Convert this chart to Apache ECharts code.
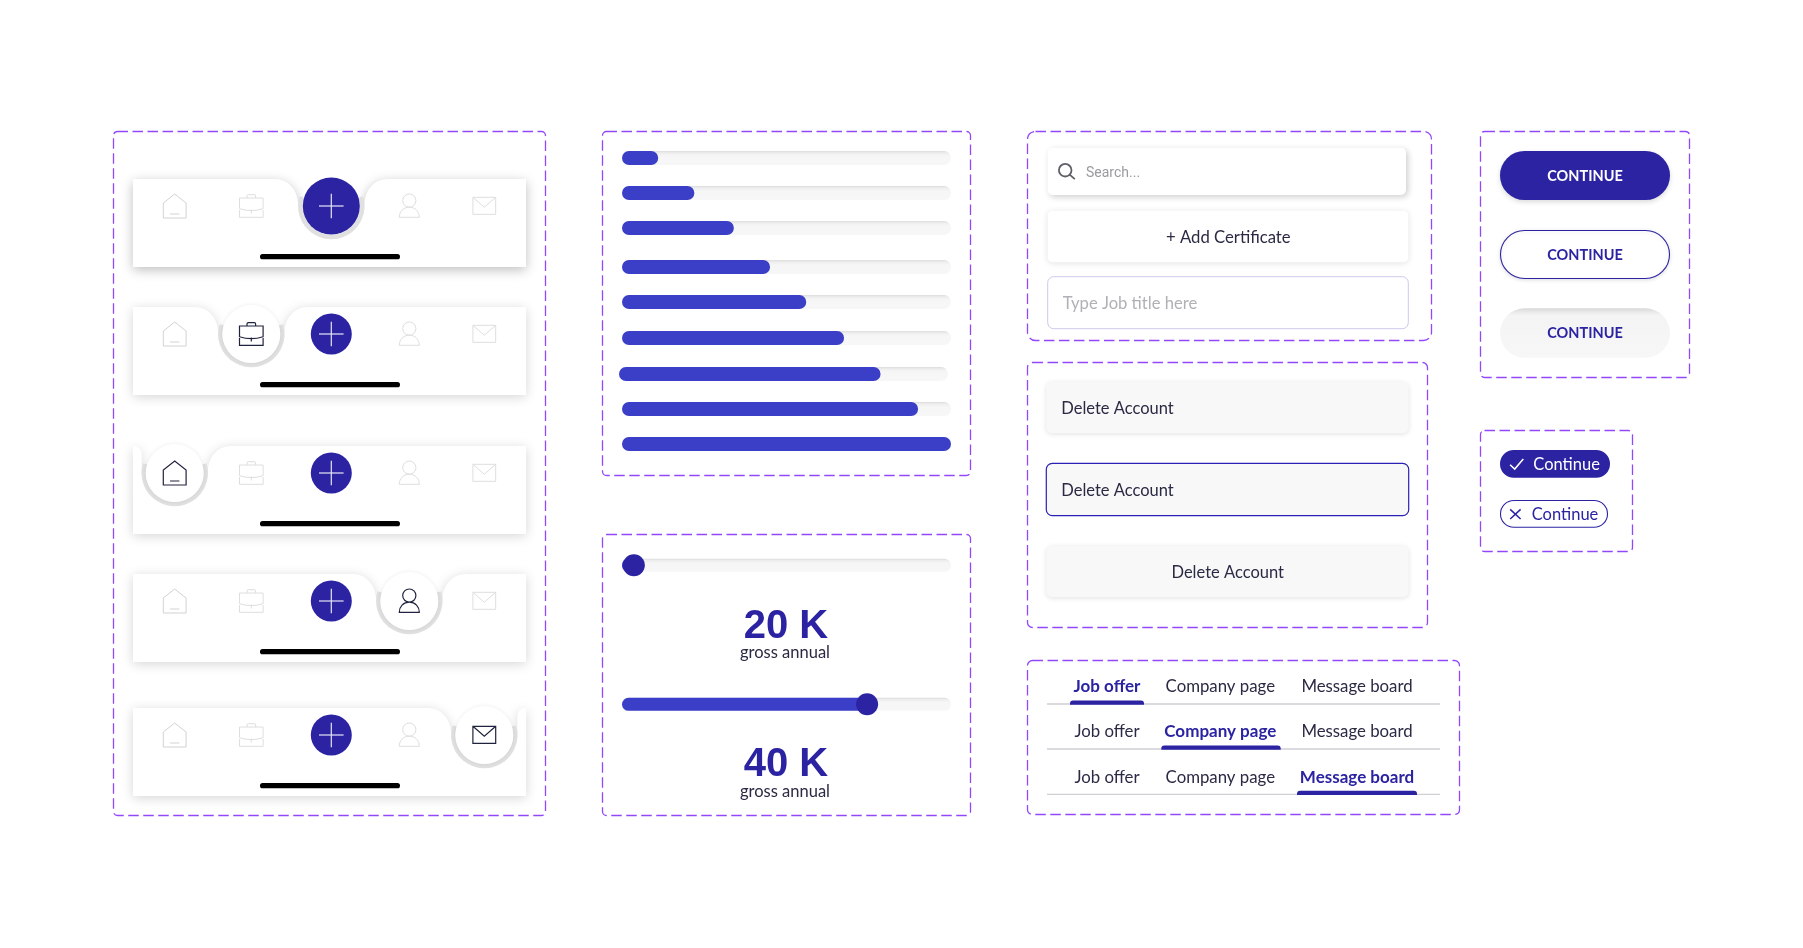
<!DOCTYPE html>
<html>
<head>
<meta charset="utf-8">
<title>UI kit</title>
<script src="https://cdn.jsdelivr.net/npm/echarts@6/dist/echarts.min.js"></script>
<style>
html,body{margin:0;padding:0;background:#fff;}
#main{width:1803px;height:948px;}
</style>
</head>
<body>
<div id="main"></div>
<script>
// values
var progressValues = [11, 22, 34, 45, 56, 67.5, 79.5, 90, 100];
var sliderValues = [3.6, 74.5];
var sliderLabels = ['20 K', '40 K'];
var sliderCaption = 'gross annual';
var navActive = [2, 1, 0, 3, 4];
var navIcons = ['home', 'case', 'plus', 'person', 'mail'];
var tabLabels = ['Job offer', 'Company page', 'Message board'];
var deleteLabel = 'Delete Account';
var buttonLabel = 'CONTINUE';
var chipLabel = 'Continue';

var INDIGO = '#2b23a2', BLUE = '#3b3fc7', DASH = '#9347fa', INK = '#2a2a44';
var FONT = 'Lato';

var g = echarts.graphic;
g.registerShape('icon_home', g.extendPath('M-11.4,12 V-3 L0,-12 L11.4,-3 V12 Z M-4.7,8 H4.7'));
g.registerShape('icon_case', g.extendPath('M-11.8,-8 H11.8 V2.7 Q0,6.5 -11.8,2.7 Z M-11.8,4 V11.3 H11.8 V4 M-4.3,-8 V-10 Q-4.3,-11.3 -3,-11.3 H3 Q4.3,-11.3 4.3,-10 V-8 M0,3.5 V7.5'));
g.registerShape('icon_person', g.extendPath('M0,-12 A6.6,6.6 0 1 1 0,1.2 A6.6,6.6 0 1 1 0,-12 Z M-10,11.3 H10 C10,5.5 6,1.2 0,1.2 C-6,1.2 -10,5.5 -10,11.3 Z'));
g.registerShape('icon_mail', g.extendPath('M-11.4,-8.7 H11.4 V8.3 H-11.4 Z M-11.4,-8.7 L0,1.3 L11.4,-8.7'));
g.registerShape('icon_search', g.extendPath('M6.3,0 A6.3,6.3 0 1 1 -6.3,0 A6.3,6.3 0 1 1 6.3,0 Z M4.5,4.5 L9.6,9'));
g.registerShape('icon_check', g.extendPath('M-6.6,1.2 L-2,5.5 L6.6,-4.6'));
g.registerShape('icon_cross', g.extendPath('M-5.2,-4.8 L5.2,4.8 M5.2,-4.8 L-5.2,4.8'));

var navTops = [179, 307, 446, 574, 708];
var navX = [174.7, 251.3, 331.3, 409.3, 484.3];
var NAV_L = 133, NAV_R = 526, NAV_H = 88;

function navPath(cx, t) {
    var y = t + 27, d = 'M' + NAV_L + ',' + t;
    if (cx - 57 < NAV_L) {
        d += ' Q' + (cx - 33) + ',' + t + ' ' + (cx - 33) + ',' + (t + 10) + ' L' + (cx - 33) + ',' + y;
    } else {
        d += ' H' + (cx - 57) + ' C' + (cx - 42) + ',' + t + ' ' + (cx - 33) + ',' + (t + 12) + ' ' + (cx - 33) + ',' + y;
    }
    d += ' A33,33 0 0 0 ' + (cx + 33) + ',' + y;
    if (cx + 57 > NAV_R) {
        d += ' L' + (cx + 33) + ',' + (t + 10) + ' Q' + (cx + 33) + ',' + t + ' ' + NAV_R + ',' + t;
    } else {
        d += ' C' + (cx + 33) + ',' + (t + 12) + ' ' + (cx + 42) + ',' + t + ' ' + (cx + 57) + ',' + t + ' H' + NAV_R;
    }
    return d + ' V' + (t + NAV_H) + ' H' + NAV_L + ' Z';
}

var items = [];

function panel(x1, y1, x2, y2, r) {
    items.push({type: 'rect', shape: {x: x1, y: y1, width: x2 - x1, height: y2 - y1, r: r},
        style: {fill: 'none', stroke: DASH, lineWidth: 1.3, lineDash: [10.5, 4.5]}});
}
function box(x1, y1, x2, y2, r, style) {
    items.push({type: 'rect', shape: {x: x1, y: y1, width: x2 - x1, height: y2 - y1, r: r}, style: style});
}
function label(text, x, y, size, color, align, weight, family) {
    items.push({type: 'text', style: {text: text, x: x, y: y + 1, fill: color, textAlign: align || 'left',
        textVerticalAlign: 'middle', font: (weight || 'normal') + ' ' + size + 'px ' + (family || FONT)}});
}
function icon(name, x, y, color, w) {
    items.push({type: 'icon_' + name, x: x, y: y, shape: {}, style: {fill: 'none', stroke: color, lineWidth: w || 1}});
}
function plus(x, y, r, line) {
    items.push({type: 'circle', shape: {cx: x, cy: y, r: r}, style: {fill: INDIGO}});
    items.push({type: 'line', shape: {x1: x - line, y1: y, x2: x + line, y2: y}, style: {stroke: '#e8e6f6', lineWidth: 1.2}});
    items.push({type: 'line', shape: {x1: x, y1: y - line, x2: x, y2: y + line}, style: {stroke: '#e8e6f6', lineWidth: 1.2}});
}

// dashed frames
panel(113.5, 131.5, 545.5, 815.5, 4);
panel(602.5, 131.5, 970.5, 475.5, 4);
panel(602.5, 534.5, 970.5, 815.5, 4);
panel(1027.5, 131.5, 1431.5, 340.5, 8);
panel(1027.5, 362.5, 1427.5, 627.5, 5);
panel(1027.5, 660.5, 1459.5, 814.5, 5);
panel(1480.5, 131.5, 1689.5, 377.5, 4);
panel(1480.5, 430.5, 1632.5, 551.5, 4);

// nav bars
navTops.forEach(function (t, row) {
    var active = navActive[row], cx = navX[active], name = 'navbar' + row;
    g.registerShape(name, g.extendPath(navPath(cx, t)));
    items.push({type: name, shape: {}, style: {fill: '#fff', shadowBlur: 12,
        shadowOffsetY: row == 0 ? 3 : 2, shadowColor: row == 0 ? 'rgba(0,0,0,0.26)' : 'rgba(0,0,0,0.17)'}});
    items.push({type: 'arc', shape: {cx: cx, cy: t + 27, r: 31, startAngle: -0.3, endAngle: Math.PI + 0.3, clockwise: true},
        style: {fill: 'none', stroke: '#e0e0e0', lineWidth: 4.4}});
    navIcons.forEach(function (n, i) {
        if (n == 'plus') {
            if (i == active) plus(navX[i], t + 27, 28.5, 12.3);
            else plus(navX[i], t + 27, 20.5, 12.3);
        } else {
            if (i == active) {
                items.push({type: 'circle', shape: {cx: navX[i], cy: t + 27, r: 29},
                    style: {fill: '#fff', shadowBlur: 4, shadowColor: 'rgba(0,0,0,0.08)'}});
                icon(n, navX[i], t + 27, '#20233f', 1.2);
            } else {
                icon(n, navX[i], t + 27, n == 'home' ? '#d2d2d2' : '#dedede', 1);
            }
        }
    });
    box(260, t + 75, 400, t + 80.3, 2.6, {fill: '#000'});
});

// slider captions
sliderLabels.forEach(function (s, i) {
    label(s, 786, [626, 764][i], 40, INDIGO, 'center', 'bold', 'Liberation Sans');
    label(sliderCaption, 785, [652, 791][i], 16.5, INK, 'center');
});

// inputs
box(1047.7, 147.7, 1406, 195, 5, {fill: '#fff', shadowBlur: 6, shadowOffsetX: 2, shadowOffsetY: 2, shadowColor: 'rgba(0,0,0,0.2)'});
icon('search', 1065.2, 170.2, '#5f6068', 1.8);
label('Search...', 1086, 172, 14, '#9a9aa0', 'left', 'normal', 'Roboto');
box(1047.7, 210.7, 1408.3, 262.3, 5, {fill: '#fff', shadowBlur: 6, shadowOffsetY: 1, shadowColor: 'rgba(0,0,0,0.12)'});
label('+ Add Certificate', 1228.3, 236.7, 16.7, INK, 'center');
box(1047.7, 276.7, 1408.3, 328.7, 6, {fill: '#fff', stroke: '#cfc8ee', lineWidth: 1});
label('Type Job title here', 1062.7, 302.7, 16.6, '#b0b0b6');

// delete account fields
var softShadow = {fill: '#f8f8f8', shadowBlur: 5, shadowOffsetY: 1, shadowColor: 'rgba(0,0,0,0.12)'};
box(1046.3, 381.7, 1408.7, 433.3, 6, softShadow);
label(deleteLabel, 1061.3, 407.7, 16.5, INK);
box(1046.3, 463.3, 1408.7, 515.7, 6, {fill: '#f8f8f8', stroke: '#2a20b5', lineWidth: 1.2});
label(deleteLabel, 1061.3, 489.7, 16.5, INK);
box(1046.3, 545.7, 1408.7, 597.3, 6, softShadow);
label(deleteLabel, 1227.7, 571.7, 16.5, INK, 'center');

// tabs
var tabX = [1107, 1220.3, 1357];
var tabY = [704, 749, 794.3];
var tabBar = [[1070, 1144], [1161.3, 1280.7], [1297, 1417]];
tabY.forEach(function (y, row) {
    items.push({type: 'line', shape: {x1: 1047, y1: y, x2: 1440, y2: y}, style: {stroke: '#cfcfd4', lineWidth: 1.3}});
    tabLabels.forEach(function (s, i) {
        if (i == row) label(s, tabX[i], y - 18, 17, INDIGO, 'center', 'bold');
        else label(s, tabX[i], y - 18, 16.8, INK, 'center');
    });
    box(tabBar[row][0], y - 3.5, tabBar[row][1], y + 0.8, [3, 3, 0, 0], {fill: INDIGO});
});

// buttons
box(1500, 151, 1670, 200, 24.5, {fill: INDIGO, shadowBlur: 5, shadowOffsetY: 2, shadowColor: 'rgba(0,0,0,0.15)'});
label(buttonLabel, 1585, 175, 14.5, '#fff', 'center', 'bold');
box(1500.5, 230.5, 1669.5, 278.5, 24, {fill: '#fff', stroke: INDIGO, lineWidth: 1.1, shadowBlur: 4, shadowOffsetY: 1, shadowColor: 'rgba(0,0,0,0.12)'});
label(buttonLabel, 1585, 254, 14.5, INDIGO, 'center', 'bold');
box(1500, 308.3, 1670, 357.7, 24.7, {fill: new g.LinearGradient(0, 0, 0, 1, [
    {offset: 0, color: '#d8d8d8'}, {offset: 0.05, color: '#e4e4e4'}, {offset: 0.14, color: '#f4f4f4'}, {offset: 1, color: '#f7f7f7'}])});
label(buttonLabel, 1585, 332, 14.5, INDIGO, 'center', 'bold');

// chips
box(1500, 450, 1610, 477.7, 13.8, {fill: INDIGO});
icon('check', 1516.7, 463.6, '#fff', 1.5);
label(chipLabel, 1533.3, 463.7, 16.5, '#fff');
box(1500.5, 500.5, 1607.5, 527.3, 13.4, {fill: '#fff', stroke: INDIGO, lineWidth: 1.1});
icon('cross', 1515.4, 514.2, INDIGO, 1.5);
label(chipLabel, 1531.7, 514, 16.5, INDIGO);

// bars: every bar is its own small grid because the rows are not evenly spaced
var barY = [158, 193, 228, 267, 302, 338, 374, 409, 444];
var barLeft = [622, 622, 622, 622, 622, 622, 619, 622, 622];
var trackFill = new g.LinearGradient(0, 0, 0, 1, [
    {offset: 0, color: '#dcdcdc'}, {offset: 0.14, color: '#eeeeee'}, {offset: 0.35, color: '#f6f6f6'}, {offset: 1, color: '#f7f7f7'}]);

var grids = [], xAxes = [], yAxes = [], series = [];

function addBar(name, value, left, cy, h) {
    var idx = grids.length;
    grids.push({left: left, top: cy - 12, width: 329, height: 24});
    xAxes.push({type: 'value', gridIndex: idx, min: 0, max: 100, show: false});
    yAxes.push({type: 'category', gridIndex: idx, data: [name], show: false});
    series.push({type: 'bar', xAxisIndex: idx, yAxisIndex: idx, barWidth: h, data: [value],
        showBackground: true, backgroundStyle: {color: trackFill, borderRadius: h / 2},
        itemStyle: {color: BLUE, borderRadius: h / 2}, silent: true});
    return idx;
}

progressValues.forEach(function (v, i) {
    addBar('bar' + i, v, barLeft[i], barY[i], 14);
});
[565.3, 704.3].forEach(function (cy, i) {
    var idx = addBar('slider' + i, sliderValues[i], 622, cy, 13);
    series.push({type: 'scatter', xAxisIndex: idx, yAxisIndex: idx, symbolSize: 22, z: 5, silent: true,
        data: [[sliderValues[i], 'slider' + i]], itemStyle: {color: INDIGO, opacity: 1}});
});

var chart = echarts.init(document.getElementById('main'));
chart.setOption({
    animation: false,
    backgroundColor: '#ffffff',
    grid: grids,
    xAxis: xAxes,
    yAxis: yAxes,
    series: series,
    graphic: {elements: items}
});
</script>
</body>
</html>
